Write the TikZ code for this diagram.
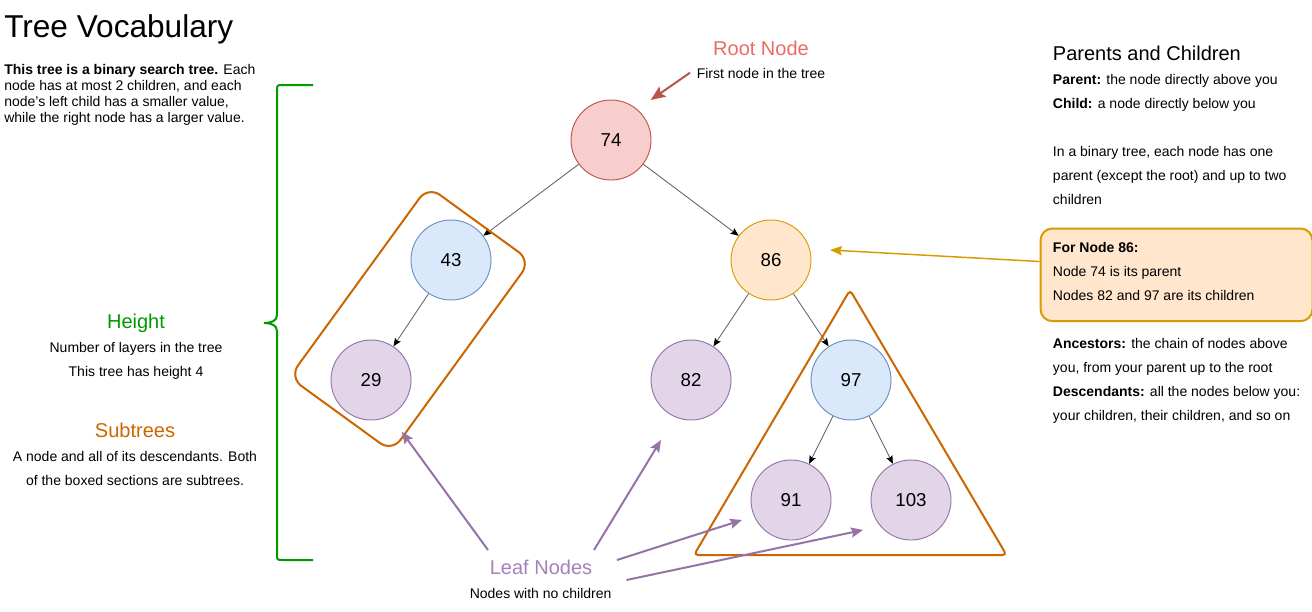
\documentclass[tikz,border=0pt]{standalone}
\usepackage{fontspec}
\setmainfont{Liberation Sans}
\usepackage{xcolor}
\usetikzlibrary{arrows.meta}

\definecolor{redfill}{HTML}{F8CECC}
\definecolor{redline}{HTML}{B85450}
\definecolor{bluefill}{HTML}{DAE8FC}
\definecolor{blueline}{HTML}{6C8EBF}
\definecolor{orangefill}{HTML}{FFE6CC}
\definecolor{orangeline}{HTML}{D79B00}
\definecolor{purplefill}{HTML}{E1D5E7}
\definecolor{purpleline}{HTML}{9673A6}
\definecolor{subtreecol}{HTML}{CC6600}
\definecolor{heightcol}{HTML}{009900}
\definecolor{roottext}{HTML}{EA6B66}
\definecolor{leaftext}{HTML}{A680B8}

\begin{document}
\begin{tikzpicture}[
    x=0.75pt, y=0.75pt,
    >=Latex,
    tnode/.style={circle, draw, line width=0.7pt, minimum size=60pt, inner sep=0pt, font=\fontsize{14}{14}\selectfont},
    edge/.style={draw=black!65, line width=0.6pt, -{Stealth[length=6pt, width=5pt, inset=1pt, color=black]}},
    body/.style={inner sep=0pt, align=left, font=\fontsize{10.5}{18}\selectfont},
    line/.style={inner sep=0pt, font=\fontsize{10.5}{12}\selectfont},
    heading/.style={inner sep=0pt, font=\fontsize{15}{18}\selectfont},
    pointer/.style={line width=1.5pt, -{Stealth[length=9pt, width=7.5pt, inset=1.5pt]}},
    subtree/.style={draw=subtreecol, line width=1.5pt}
]
\useasboundingbox (0,0) rectangle (1312,-611);

% Title and intro
\node[inner sep=0pt, anchor=base west, font=\fontsize{23.7}{26}\selectfont] (title) at (4,-37.5) {Tree Vocabulary};
\node[body, anchor=north west, font=\fontsize{10.5}{12}\selectfont] (intro) at (4,-64)
    {\textbf{This tree is a binary search tree.} Each\\
     node has at most 2 children, and each\\
     node's left child has a smaller value,\\
     while the right node has a larger value.};

% Tree
\node[tnode, fill=redfill, draw=redline] (n74) at (611,-140) {74};
\node[tnode, fill=bluefill, draw=blueline] (n43) at (451,-260) {43};
\node[tnode, fill=orangefill, draw=orangeline] (n86) at (771,-260) {86};
\node[tnode, fill=purplefill, draw=purpleline] (n29) at (371,-380) {29};
\node[tnode, fill=purplefill, draw=purpleline] (n82) at (691,-380) {82};
\node[tnode, fill=bluefill, draw=blueline] (n97) at (851,-380) {97};
\node[tnode, fill=purplefill, draw=purpleline] (n91) at (791,-500) {91};
\node[tnode, fill=purplefill, draw=purpleline] (n103) at (911,-500) {103};

\draw[edge] (n74) -- (n43);
\draw[edge] (n74) -- (n86);
\draw[edge] (n43) -- (n29);
\draw[edge] (n86) -- (n82);
\draw[edge] (n86) -- (n97);
\draw[edge] (n97) -- (n91);
\draw[edge] (n97) -- (n103);

% Subtree outlines
\node[subtree, rectangle, rounded corners=11pt, rotate=54, minimum width=177pt, minimum height=95pt] (leftbox) at (410,-319) {};
\draw[subtree, rounded corners=3pt] (850,-290) -- (1006.5,-555) -- (694,-555) -- cycle;

% Height brace
\draw[draw=heightcol, line width=1.5pt]
    (313,-85) -- (283,-85) .. controls (277,-85) .. (277,-91) -- (277,-315)
    .. controls (277,-321) and (271,-323) .. (264,-323)
    .. controls (271,-323) and (277,-325) .. (277,-331) -- (277,-554)
    .. controls (277,-560) .. (283,-560) -- (313,-560);

% Height and subtree notes
\node[heading, anchor=base, text=heightcol] (height) at (136,-328.3) {Height};
\node[line, anchor=base] (height1) at (136,-352.3) {Number of layers in the tree};
\node[line, anchor=base] (height2) at (136,-376.3) {This tree has height 4};
\node[heading, anchor=base, text=subtreecol] (subtrees) at (135,-437.3) {Subtrees};
\node[line, anchor=base] (subtrees1) at (135,-461.7) {A node and all of its descendants. Both};
\node[line, anchor=base] (subtrees2) at (135,-485.7) {of the boxed sections are subtrees.};

% Root note
\node[heading, anchor=base, text=roottext] (rootlbl) at (761,-55) {Root Node};
\node[line, anchor=base] (rootnote) at (761,-78.3) {First node in the tree};
\coordinate (roottail) at (690,-72.7);
\coordinate (roottip) at (650.7,-100);
\draw[pointer, draw=redline, fill=redline, -{Stealth[length=11pt, width=9pt, inset=2pt]}] (roottail) -- (roottip);

% Leaf note
\node[heading, anchor=base, text=leaftext] (leaflbl) at (541,-574) {Leaf Nodes};
\node[line, anchor=base] (leafnote) at (540.6,-598.3) {Nodes with no children};
\coordinate (leaf1a) at (488,-550);
\coordinate (leaf1b) at (401.7,-431.7);
\coordinate (leaf2a) at (594,-550);
\coordinate (leaf2b) at (661,-440);
\coordinate (leaf3a) at (617,-560);
\coordinate (leaf3b) at (742,-520);
\coordinate (leaf4a) at (626.5,-580);
\coordinate (leaf4b) at (863,-530);
\foreach \a/\b in {leaf1a/leaf1b, leaf2a/leaf2b, leaf3a/leaf3b, leaf4a/leaf4b}
    \draw[pointer, draw=purpleline, fill=purpleline] (\a) -- (\b);

% Parents and children
\node[heading, anchor=base west] (pchead) at (1052.7,-60) {Parents and Children};
\node[body, anchor=north west] (pcdefs) at (1052.7,-74)
    {\textbf{Parent:} the node directly above you\\
     \textbf{Child:} a node directly below you};
\node[body, anchor=north west] (pcbinary) at (1052.7,-146)
    {In a binary tree, each node has one\\
     parent (except the root) and up to two\\
     children};

% Callout for node 86
\node[draw=orangeline, fill=orangefill, line width=1.5pt, rounded corners=9pt,
      minimum width=204pt, minimum height=69.5pt, anchor=north west] (callout) at (1039.5,-227.5) {};
\node[body, anchor=north west] (callouttext) at (1052.7,-242)
    {\textbf{For Node 86:}\\
     Node 74 is its parent\\
     Nodes 82 and 97 are its children};
\coordinate (calloutend) at (830,-250);
\draw[draw=orangeline, line width=1.1pt, -{Stealth[length=9pt, width=7pt, inset=1.5pt]}] ([yshift=10pt]callout.west) -- (calloutend);

\node[body, anchor=north west] (kin) at (1052.7,-338)
    {\textbf{Ancestors:} the chain of nodes above\\
     you, from your parent up to the root\\
     \textbf{Descendants:} all the nodes below you:\\
     your children, their children, and so on};
\end{tikzpicture}
\end{document}
